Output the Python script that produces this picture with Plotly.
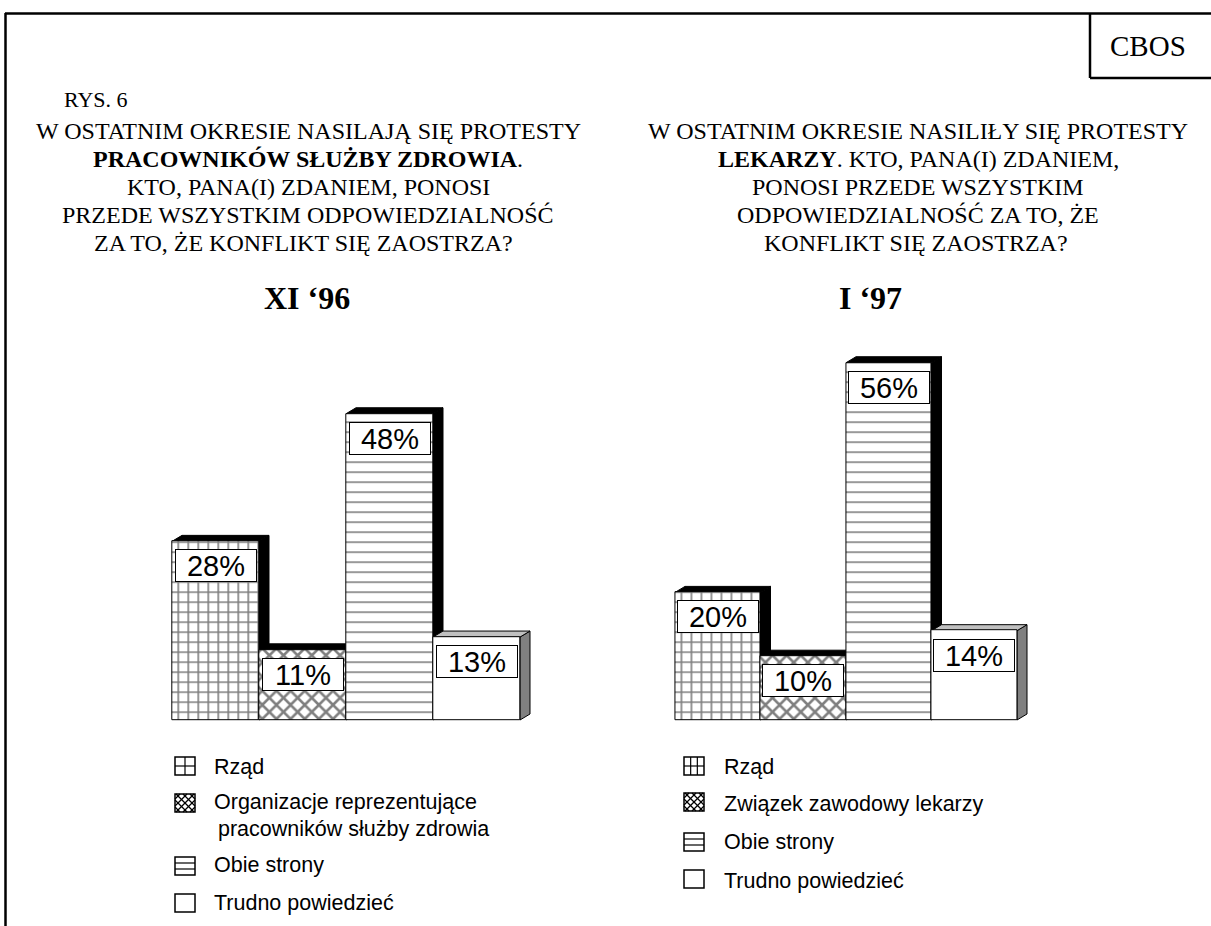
import plotly.graph_objects as go

# ---------------- data ----------------
categories_left = ["Rząd", "Organizacje reprezentujące\n pracowników służby zdrowia", "Obie strony", "Trudno powiedzieć"]
values_left = [28, 11, 48, 13]
categories_right = ["Rząd", "Związek zawodowy lekarzy", "Obie strony", "Trudno powiedzieć"]
values_right = [20, 10, 56, 14]
period_left = "XI ‘96"
period_right = "I ‘97"
title_left = ["W OSTATNIM OKRESIE NASILAJĄ SIĘ PROTESTY",
              "<b>PRACOWNIKÓW SŁUŻBY ZDROWIA</b>.",
              "KTO, PANA(I) ZDANIEM, PONOSI",
              "PRZEDE WSZYSTKIM ODPOWIEDZIALNOŚĆ",
              "ZA TO, ŻE KONFLIKT SIĘ ZAOSTRZA?"]
title_right = ["W OSTATNIM OKRESIE NASILIŁY SIĘ PROTESTY",
               "<b>LEKARZY</b>. KTO, PANA(I) ZDANIEM,",
               "PONOSI PRZEDE WSZYSTKIM",
               "ODPOWIEDZIALNOŚĆ ZA TO, ŻE",
               "KONFLIKT SIĘ ZAOSTRZA?"]

# ---------------- style ----------------
W, H = 1211, 926
SERIF = "Liberation Serif, Times New Roman, serif"
SANS = "Liberation Sans, Arial, sans-serif"
patterns = ["+", "x", "-", ""]
pat_sizes = [10, 10, 10, 10]
pat_solid = [0.3, 0.45, 0.16, 0.1]
top_colors = ["black", "black", "black", "#c0c0c0"]
side_colors = ["black", "black", "black", "#808080"]

def px(x):
    return x / W

def py(y):
    return 1 - y / H

PPY = 6.38          # pixels per percent
BASE = 720          # baseline pixel row
YR = [-0.5, 60]
DX, DY = 10, 6      # depth in pixels

charts = [
    dict(vals=values_left, cats=categories_left, left=172, ppx=87, xa="x", ya="y",
         title=title_left, tx=308, tx_last=303, period=period_left, ptx=307,
         icon_x=175, text_x=212, cols=2,
         rows=[(766, [(767, 0)]), (803, [(802, 0), (829, 4)]), (866, [(865, 0)]), (903, [(903, 0)])]),
    dict(vals=values_right, cats=categories_right, left=675, ppx=85.5, xa="x2", ya="y2",
         title=title_right, tx=918, tx_last=916, period=period_right, ptx=870,
         icon_x=684, text_x=722, cols=3,
         rows=[(766, [(767, 0)]), (802, [(804, 0)]), (842, [(842, 0)]), (879, [(881, 0)])]),
]

fig = go.Figure()
shapes = []
annotations = []
layout_axes = {}

for k, c in enumerate(charts):
    vals = c["vals"]
    xs = list(range(len(vals)))
    fig.add_bar(
        x=xs, y=vals, width=1, xaxis=c["xa"], yaxis=c["ya"],
        marker=dict(color="white", line=dict(color="black", width=1),
                    pattern=dict(shape=patterns, size=pat_sizes, solidity=pat_solid,
                                 fgcolor="black", bgcolor="white")),
        showlegend=False, hoverinfo="skip")

    xr = [-0.6, 3.75]
    x_start = c["left"] + (xr[0] + 0.5) * c["ppx"]
    x_end = c["left"] + (xr[1] + 0.5) * c["ppx"]
    y_bot = BASE - (YR[0]) * PPY
    y_top = BASE - YR[1] * PPY
    suffix = "" if k == 0 else "2"
    layout_axes["xaxis" + suffix] = dict(domain=[px(x_start), px(x_end)], range=xr, visible=False,
                                         anchor="y" + suffix, fixedrange=True)
    layout_axes["yaxis" + suffix] = dict(domain=[py(y_bot), py(y_top)], range=YR, visible=False,
                                         anchor="x" + suffix, fixedrange=True)

    dxd = DX / c["ppx"]
    dyd = DY / PPY
    for i, v in enumerate(vals):
        l, r = i - 0.5, i + 0.5
        top = f"M {l},{v} L {l+dxd},{v+dyd} L {r+dxd},{v+dyd} L {r},{v} Z"
        side = f"M {r},{v} L {r+dxd},{v+dyd} L {r+dxd},{dyd} L {r},0 Z"
        for path, col in ((side, side_colors[i]), (top, top_colors[i])):
            shapes.append(dict(type="path", path=path, xref=c["xa"], yref=c["ya"], layer="below",
                               fillcolor=col, line=dict(color="black", width=1)))
        annotations.append(dict(x=i, y=v, xref=c["xa"], yref=c["ya"], yanchor="top", yshift=-8,
                                text=f"{v}%", showarrow=False, bgcolor="white", bordercolor="black",
                                borderwidth=1, borderpad=0, width=80, height=31,
                                font=dict(family=SANS, size=29, color="black")))

    # titles
    for j, line in enumerate(c["title"]):
        cx = c["tx_last"] if j == len(c["title"]) - 1 else c["tx"]
        annotations.append(dict(x=px(cx), y=py(131 + 28 * j), xref="paper", yref="paper",
                                xanchor="center", yanchor="middle", text=line, showarrow=False,
                                font=dict(family=SERIF, size=24, color="black")))
    annotations.append(dict(x=px(c["ptx"]), y=py(298), xref="paper", yref="paper",
                            xanchor="center", yanchor="middle", text=f"<b>{c['period']}</b>",
                            showarrow=False, font=dict(family=SERIF, size=32, color="black")))

    # custom legend
    iw, ih = 20, 18
    for i, (icy, texts) in enumerate(c["rows"]):
        x0, x1 = c["icon_x"], c["icon_x"] + iw
        y0, y1 = icy - ih / 2, icy + ih / 2

        def seg(a, b, cc, d):
            shapes.append(dict(type="line", xref="paper", yref="paper",
                               x0=px(a), x1=px(b), y0=py(cc), y1=py(d),
                               line=dict(color="black", width=1.2)))
        shapes.append(dict(type="rect", xref="paper", yref="paper", x0=px(x0), x1=px(x1),
                           y0=py(y0), y1=py(y1), line=dict(color="black", width=1.5),
                           fillcolor="white"))
        p = patterns[i]
        if p == "+":
            for q in range(1, c["cols"]):
                xx = x0 + iw * q / c["cols"]
                seg(xx, xx, y0, y1)
            seg(x0, x1, (y0 + y1) / 2, (y0 + y1) / 2)
        elif p == "-":
            for q in (1, 2):
                yy = y0 + ih * q / 3
                seg(x0, x1, yy, yy)
        elif p == "x":
            for d, cc0 in ((1, ih / 2 - iw / 2), (-1, ih / 2 + iw / 2)):
                for off in (-14, -7, 0, 7, 14):
                    cc = cc0 + off
                    if d == 1:
                        lo, hi = max(0, -cc), min(iw, ih - cc)
                    else:
                        lo, hi = max(0, cc - ih), min(iw, cc)
                    if hi - lo > 0.5:
                        seg(x0 + lo, x0 + hi, y0 + d * lo + cc, y0 + d * hi + cc)
        for (ty, indent), line in zip(texts, c["cats"][i].split("\n")):
            annotations.append(dict(x=px(c["text_x"] + indent), y=py(ty), xref="paper", yref="paper",
                                    xanchor="left", yanchor="middle", text=line.strip(), showarrow=False,
                                    font=dict(family=SANS, size=21.5, color="black")))

# frame & CBOS box
frame = [((5, 13.5), (W, 13.5)), ((5.5, 13), (5.5, H)), ((1090, 13), (1090, 78)), ((1090, 78), (W, 78))]
for (a, b), (cc, d) in frame:
    shapes.append(dict(type="line", xref="paper", yref="paper", x0=px(a), y0=py(b), x1=px(cc), y1=py(d),
                       line=dict(color="black", width=2.5)))
annotations.append(dict(x=px(1148), y=py(46), xref="paper", yref="paper", text="CBOS", showarrow=False,
                        xanchor="center", yanchor="middle", font=dict(family=SERIF, size=29, color="black")))
annotations.append(dict(x=px(62), y=py(100), xref="paper", yref="paper", text="RYS. 6", showarrow=False,
                        xanchor="left", yanchor="middle", font=dict(family=SERIF, size=22, color="black")))

fig.update_layout(
    width=W, height=H, margin=dict(l=0, r=0, t=0, b=0),
    paper_bgcolor="white", plot_bgcolor="rgba(0,0,0,0)",
    shapes=shapes, annotations=annotations, bargap=0, **layout_axes)

fig.write_html("out.html", config={"displayModeBar": False},
               post_script="document.body.style.margin='0';document.body.style.overflow='hidden';")
